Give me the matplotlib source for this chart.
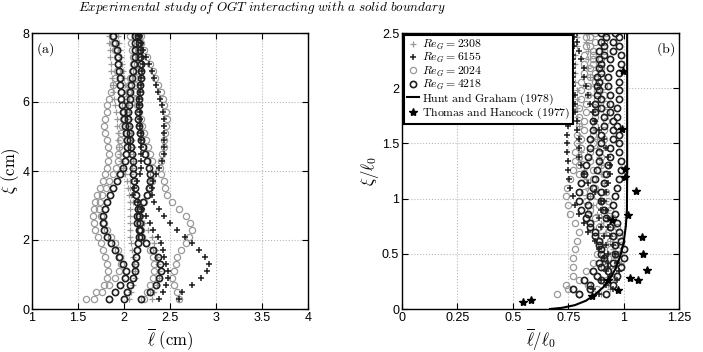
import numpy as np
import matplotlib
matplotlib.use('Agg')
import matplotlib.pyplot as plt
from matplotlib.lines import Line2D

plt.rcParams['mathtext.fontset'] = 'cm'
plt.rcParams['font.family'] = ['Liberation Sans', 'DejaVu Sans']

# ---------------- Panel (a) data: xi (cm) vs mean length scale (cm) ----------------
xi_a = [0.3, 0.5, 0.7, 0.9, 1.1, 1.3, 1.5, 1.7, 1.9, 2.1, 2.3, 2.5, 2.7, 2.9, 3.1, 3.3,
        3.5, 3.7, 3.9, 4.1, 4.3, 4.5, 4.7, 4.9, 5.1, 5.3, 5.5, 5.7, 5.9, 6.1, 6.3, 6.5,
        6.7, 6.9, 7.1, 7.3, 7.5, 7.7, 7.9]

# Re_G = 2308 (light crosses)
a_2308_1 = [2.30, 2.33, 2.36, 2.38, 2.38, 2.37, 2.36, 2.35, 2.33, 2.30, 2.26, 2.22, 2.18,
            2.14, 2.10, 2.08, 2.07, 2.07, 2.08, 2.09, 2.10, 2.10, 2.10, 2.09, 2.08, 2.07,
            2.06, 2.05, 2.04, 2.03, 2.02, 2.01, 2.00, 1.99, 1.98, 1.97, 1.96, 1.95, 1.94]
a_2308_2 = [2.05, 2.08, 2.10, 2.12, 2.12, 2.11, 2.10, 2.09, 2.08, 2.07, 2.07, 2.07, 2.07,
            2.07, 2.06, 2.05, 2.04, 2.03, 2.01, 1.99, 1.97, 1.96, 1.95, 1.94, 1.93, 1.92,
            1.92, 1.91, 1.90, 1.89, 1.88, 1.88, 1.87, 1.86, 1.86, 1.85, 1.85, 1.84, 1.84]
# Re_G = 6155 (dark crosses)
a_6155_1 = [2.60, 2.63, 2.74, 2.84, 2.90, 2.92, 2.88, 2.82, 2.74, 2.66, 2.58, 2.50, 2.43,
            2.38, 2.33, 2.30, 2.30, 2.32, 2.35, 2.38, 2.41, 2.43, 2.43, 2.43, 2.43, 2.43,
            2.43, 2.42, 2.41, 2.39, 2.37, 2.35, 2.33, 2.30, 2.27, 2.24, 2.21, 2.18, 2.16]
a_6155_2 = [2.38, 2.42, 2.46, 2.48, 2.48, 2.46, 2.44, 2.42, 2.40, 2.37, 2.32, 2.28, 2.24,
            2.20, 2.15, 2.10, 2.11, 2.14, 2.17, 2.18, 2.19, 2.19, 2.19, 2.18, 2.18, 2.17,
            2.17, 2.17, 2.16, 2.16, 2.17, 2.18, 2.19, 2.20, 2.21, 2.20, 2.19, 2.18, 2.17]
# Re_G = 2024 (light circles)
a_2024_1 = [1.59, 1.70, 1.78, 1.82, 1.83, 1.81, 1.79, 1.77, 1.75, 1.72, 1.69, 1.67, 1.66,
            1.67, 1.69, 1.71, 1.74, 1.77, 1.79, 1.81, 1.83, 1.84, 1.83, 1.81, 1.79, 1.78,
            1.79, 1.81, 1.82, 1.84, 1.86, 1.88, 1.90, 1.92, 1.93, 1.92, 1.90, 1.88, 1.87]
a_2024_2 = [1.67, 1.76, 1.84, 1.90, 1.95, 1.97, 1.96, 1.93, 1.90, 1.86, 1.82, 1.78, 1.75,
            1.73, 1.74, 1.76, 1.80, 1.84, 1.88, 1.91, 1.93, 1.94, 1.95, 1.96, 1.97, 1.98,
            1.99, 2.00, 2.01, 2.02, 2.04, 2.05, 2.07, 2.09, 2.10, 2.10, 2.09, 2.08, 2.07]
a_2024_3 = [2.60, 2.58, 2.54, 2.52, 2.54, 2.56, 2.58, 2.62, 2.67, 2.71, 2.74, 2.72, 2.67,
            2.60, 2.52, 2.47, 2.45, 2.43, 2.40, 2.39, 2.40, 2.41, 2.43, 2.44, 2.45, 2.46,
            2.47, 2.46, 2.44, 2.42, 2.40, 2.37, 2.34, 2.31, 2.28, 2.25, 2.22, 2.19, 2.16]
a_2024_4 = [2.22, 2.25, 2.28, 2.31, 2.33, 2.33, 2.31, 2.28, 2.24, 2.20, 2.18, 2.16, 2.17,
            2.19, 2.22, 2.25, 2.28, 2.30, 2.31, 2.31, 2.30, 2.28, 2.26, 2.24, 2.22, 2.20,
            2.18, 2.16, 2.14, 2.13, 2.12, 2.12, 2.12, 2.13, 2.14, 2.15, 2.16, 2.17, 2.18]
# Re_G = 4218 (dark circles)
a_4218_1 = [2.00, 2.03, 2.07, 2.10, 2.12, 2.12, 2.13, 2.14, 2.15, 2.16, 2.17, 2.17, 2.16,
            2.15, 2.14, 2.13, 2.12, 2.11, 2.10, 2.10, 2.10, 2.09, 2.08, 2.07, 2.06, 2.05,
            2.04, 2.04, 2.05, 2.06, 2.07, 2.08, 2.09, 2.10, 2.11, 2.12, 2.12, 2.12, 2.12]
a_4218_2 = [1.84, 1.90, 1.96, 2.01, 2.02, 1.99, 1.95, 1.90, 1.86, 1.82, 1.78, 1.77, 1.77,
            1.79, 1.82, 1.85, 1.88, 1.92, 1.96, 1.99, 2.01, 2.02, 2.03, 2.03, 2.02, 2.01,
            2.00, 1.99, 1.98, 1.97, 1.97, 1.96, 1.96, 1.95, 1.94, 1.93, 1.92, 1.90, 1.88]
a_4218_3 = [2.18, 2.28, 2.35, 2.38, 2.40, 2.39, 2.37, 2.31, 2.24, 2.18, 2.16, 2.14, 2.14,
            2.17, 2.21, 2.25, 2.27, 2.28, 2.28, 2.27, 2.25, 2.23, 2.21, 2.19, 2.17, 2.16,
            2.15, 2.15, 2.16, 2.16, 2.17, 2.17, 2.18, 2.18, 2.18, 2.17, 2.17, 2.16, 2.15]

# ---------------- Panel (b) data: xi/l0 vs l/l0 ----------------
xi_b1 = [0.14, 0.22, 0.30, 0.38, 0.46, 0.54, 0.62, 0.70, 0.78, 0.86, 0.94, 1.02, 1.10, 1.18,
         1.26, 1.34, 1.42, 1.50, 1.58, 1.66, 1.74, 1.82, 1.90, 1.98, 2.06, 2.14, 2.22, 2.30,
         2.38, 2.46]
xi_b2 = [0.18, 0.26, 0.34, 0.42, 0.50, 0.58, 0.66, 0.74, 0.82, 0.90, 0.98, 1.06, 1.14, 1.22,
         1.30, 1.38, 1.46, 1.54, 1.62, 1.70, 1.78, 1.86, 1.94, 2.02, 2.10, 2.18, 2.26, 2.34,
         2.42, 2.50]

b_2308_1 = [0.90, 0.93, 0.95, 0.96, 0.96, 0.95, 0.94, 0.92, 0.90, 0.88, 0.86, 0.85, 0.84, 0.83,
            0.82, 0.81, 0.81, 0.80, 0.80, 0.80, 0.79, 0.79, 0.79, 0.79, 0.78, 0.78, 0.78, 0.78,
            0.79, 0.79]
b_2308_2 = [0.94, 0.96, 0.98, 0.99, 0.98, 0.97, 0.96, 0.95, 0.94, 0.93, 0.92, 0.92, 0.91, 0.90,
            0.90, 0.89, 0.88, 0.88, 0.87, 0.87, 0.86, 0.86, 0.85, 0.85, 0.85, 0.84, 0.84, 0.84,
            0.83, 0.83]
b_6155_1 = [0.89, 0.92, 0.94, 0.93, 0.91, 0.89, 0.87, 0.84, 0.82, 0.80, 0.78, 0.77, 0.76, 0.755,
            0.75, 0.75, 0.745, 0.745, 0.745, 0.75, 0.75, 0.755, 0.76, 0.76, 0.765, 0.77, 0.77,
            0.77, 0.775, 0.775]
b_6155_2 = [0.95, 0.97, 0.98, 0.97, 0.96, 0.95, 0.94, 0.93, 0.93, 0.92, 0.90, 0.87, 0.84, 0.82,
            0.81, 0.80, 0.80, 0.80, 0.79, 0.79, 0.78, 0.78, 0.78, 0.77, 0.77, 0.77, 0.77, 0.76,
            0.76, 0.76]
b_6155_3 = [0.86, 0.90, 0.92, 0.93, 0.93, 0.92, 0.91, 0.90, 0.89, 0.90, 0.91, 0.92, 0.93, 0.94,
            0.94, 0.93, 0.92, 0.91, 0.89, 0.87, 0.86, 0.85, 0.84, 0.83, 0.82, 0.82, 0.81, 0.80,
            0.79, 0.79]
b_2024_1 = [0.70, 0.74, 0.77, 0.77, 0.77, 0.78, 0.79, 0.80, 0.78, 0.76, 0.75, 0.74, 0.745, 0.76,
            0.77, 0.78, 0.78, 0.79, 0.79, 0.80, 0.80, 0.80, 0.81, 0.81, 0.81, 0.82, 0.82, 0.82,
            0.83, 0.83]
b_2024_2 = [0.80, 0.84, 0.88, 0.91, 0.93, 0.94, 0.94, 0.93, 0.92, 0.91, 0.89, 0.88, 0.87, 0.86,
            0.86, 0.85, 0.85, 0.86, 0.86, 0.87, 0.87, 0.88, 0.88, 0.88, 0.87, 0.87, 0.86, 0.86,
            0.85, 0.85]
b_2024_3 = [0.75, 0.80, 0.83, 0.86, 0.88, 0.90, 0.90, 0.89, 0.87, 0.85, 0.83, 0.82, 0.81, 0.80,
            0.80, 0.80, 0.81, 0.81, 0.82, 0.82, 0.83, 0.83, 0.84, 0.84, 0.85, 0.85, 0.86, 0.86,
            0.87, 0.87]
b_2024_4 = [0.88, 0.92, 0.95, 0.97, 0.98, 0.99, 0.98, 0.97, 0.95, 0.94, 0.93, 0.92, 0.91, 0.91,
            0.90, 0.90, 0.90, 0.91, 0.91, 0.92, 0.92, 0.92, 0.91, 0.91, 0.90, 0.90, 0.90, 0.91,
            0.91, 0.92]
b_4218_1 = [0.92, 0.95, 0.97, 0.99, 1.00, 1.00, 0.99, 0.98, 0.97, 0.96, 0.95, 0.96, 0.97, 0.98,
            0.99, 0.99, 0.98, 0.98, 0.98, 0.97, 0.97, 0.97, 0.98, 0.98, 0.98, 0.98, 0.99, 0.99,
            0.98, 0.98]
b_4218_2 = [0.85, 0.90, 0.93, 0.95, 0.96, 0.96, 0.95, 0.94, 0.92, 0.91, 0.90, 0.90, 0.91, 0.92,
            0.93, 0.94, 0.94, 0.95, 0.95, 0.95, 0.94, 0.94, 0.94, 0.93, 0.93, 0.94, 0.94, 0.95,
            0.95, 0.96]
b_4218_3 = [0.80, 0.85, 0.88, 0.90, 0.91, 0.90, 0.89, 0.87, 0.85, 0.84, 0.84, 0.85, 0.86, 0.87,
            0.88, 0.89, 0.89, 0.90, 0.90, 0.91, 0.91, 0.90, 0.90, 0.89, 0.89, 0.90, 0.90, 0.91,
            0.91, 0.92]
b_4218_4 = [0.77, 0.82, 0.86, 0.89, 0.90, 0.89, 0.87, 0.85, 0.83, 0.81, 0.80, 0.80, 0.81, 0.82,
            0.83, 0.84, 0.85, 0.85, 0.86, 0.86, 0.87, 0.87, 0.88, 0.88, 0.88, 0.89, 0.89, 0.89,
            0.90, 0.90]

# Hunt and Graham (1978) theory curve
hg_l = [0.668, 0.72, 0.78, 0.83, 0.87, 0.91, 0.94, 0.965, 0.985, 1.0, 1.01, 1.015, 1.016, 1.016]
hg_xi = [0.0, 0.01, 0.035, 0.075, 0.13, 0.2, 0.28, 0.37, 0.48, 0.6, 0.75, 0.9, 1.2, 2.6]

# Thomas and Hancock (1977) data
th_l = [0.548, 0.582, 0.856, 0.93, 0.976, 0.949, 1.018, 1.054, 1.085, 1.088, 1.104, 1.03,
        1.065, 1.006, 1.006, 0.994, 0.999]
th_xi = [0.066, 0.08, 0.12, 0.26, 0.17, 0.81, 0.85, 1.07, 0.65, 0.50, 0.35, 0.28,
         0.26, 1.20, 1.27, 1.63, 2.16]

# ---------------- styles ----------------
LIGHT = '0.6'
DARK = '0.12'
st_2308 = dict(marker='+', color=LIGHT, ms=5, mew=0.9, ls='none')
st_6155 = dict(marker='+', color=DARK, ms=5, mew=1.1, ls='none')
st_2024 = dict(marker='o', mfc='none', mec=LIGHT, ms=4.5, mew=0.9, ls='none')
st_4218 = dict(marker='o', mfc='none', mec=DARK, ms=4.5, mew=1.2, ls='none')

fig = plt.figure(figsize=(7.03, 3.52), dpi=100)
axA = fig.add_axes([32/703, 43/352, 276/703, 276/352])
axB = fig.add_axes([402/703, 43/352, 277/703, 276/352])


def style(ax):
    ax.grid(True, linestyle=':', color='0.72', linewidth=0.8)
    ax.set_axisbelow(True)
    ax.tick_params(direction='in', top=True, right=True, length=4, width=0.8,
                   labelsize=9, pad=2)
    for s in ax.spines.values():
        s.set_linewidth(1.0)


# Panel (a)
for prof in [a_2308_1, a_2308_2]:
    axA.plot(prof, xi_a, **st_2308)
for prof in [a_2024_1, a_2024_2, a_2024_3, a_2024_4]:
    axA.plot(prof, xi_a, **st_2024)
for prof in [a_6155_1, a_6155_2]:
    axA.plot(prof, xi_a, **st_6155)
for prof in [a_4218_1, a_4218_2, a_4218_3]:
    axA.plot(prof, xi_a, **st_4218)
axA.set_xlim(1, 4)
axA.set_ylim(0, 8)
axA.set_xticks([1, 1.5, 2, 2.5, 3, 3.5, 4])
axA.set_xticklabels(['1', '1.5', '2', '2.5', '3', '3.5', '4'])
axA.set_yticks([0, 2, 4, 6, 8])
style(axA)
axA.set_xlabel(r'$\overline{\ell}\ (\mathrm{cm})$', fontsize=12, labelpad=2)
axA.set_ylabel(r'$\xi\ (\mathrm{cm})$', fontsize=12, labelpad=0)
axA.text(0.015, 0.975, r'$\mathrm{(a)}$', transform=axA.transAxes, ha='left', va='top',
         fontsize=10)

# Panel (b)
for prof, xs in [(b_2308_1, xi_b1), (b_2308_2, xi_b2)]:
    axB.plot(prof, xs, **st_2308)
for prof, xs in [(b_2024_1, xi_b1), (b_2024_2, xi_b1), (b_2024_3, xi_b2), (b_2024_4, xi_b2)]:
    axB.plot(prof, xs, **st_2024)
for prof, xs in [(b_6155_1, xi_b1), (b_6155_2, xi_b2), (b_6155_3, xi_b2)]:
    axB.plot(prof, xs, **st_6155)
for prof, xs in [(b_4218_1, xi_b1), (b_4218_2, xi_b2), (b_4218_3, xi_b1), (b_4218_4, xi_b2)]:
    axB.plot(prof, xs, **st_4218)
axB.plot(hg_l, hg_xi, color='k', lw=1.5)
axB.plot(th_l, th_xi, marker='*', color='k', ms=6, ls='none')
axB.set_xlim(0, 1.25)
axB.set_ylim(0, 2.5)
axB.set_xticks([0, 0.25, 0.5, 0.75, 1, 1.25])
axB.set_xticklabels(['0', '0.25', '0.5', '0.75', '1', '1.25'])
axB.set_yticks([0, 0.5, 1, 1.5, 2, 2.5])
axB.set_yticklabels(['0', '0.5', '1', '1.5', '2', '2.5'])
style(axB)
axB.set_xlabel(r'$\overline{\ell}/\ell_0$', fontsize=12, labelpad=2)
axB.set_ylabel(r'$\xi/\ell_0$', fontsize=12, labelpad=1)
axB.text(0.985, 0.975, r'$\mathrm{(b)}$', transform=axB.transAxes, ha='right', va='top',
         fontsize=10)

handles = [
    Line2D([], [], **st_2308),
    Line2D([], [], **st_6155),
    Line2D([], [], **st_2024),
    Line2D([], [], **st_4218),
    Line2D([], [], color='k', lw=1.5),
    Line2D([], [], marker='*', color='k', ms=6, ls='none'),
]
labels = [r'$Re_G = 2308$', r'$Re_G = 6155$', r'$Re_G = 2024$', r'$Re_G = 4218$',
          r'$\mathrm{Hunt\ and\ Graham\ (1978)}$', r'$\mathrm{Thomas\ and\ Hancock\ (1977)}$']
leg = axB.legend(handles, labels, loc='upper left', bbox_to_anchor=(0, 1),
                 borderaxespad=0.15, fontsize=8.5, handlelength=1.0, handletextpad=0.3,
                 labelspacing=-0.05, borderpad=0.25, frameon=True, fancybox=False,
                 framealpha=1)
leg.get_frame().set_edgecolor('k')
leg.get_frame().set_linewidth(1.5)

fig.text(262/703, 1 - 11/352,
         r'$\mathit{Experimental\ study\ of\ OGT\ interacting\ with\ a\ solid\ boundary}$',
         ha='center', va='baseline', fontsize=9.5)

fig.savefig('out.png', dpi=100)
